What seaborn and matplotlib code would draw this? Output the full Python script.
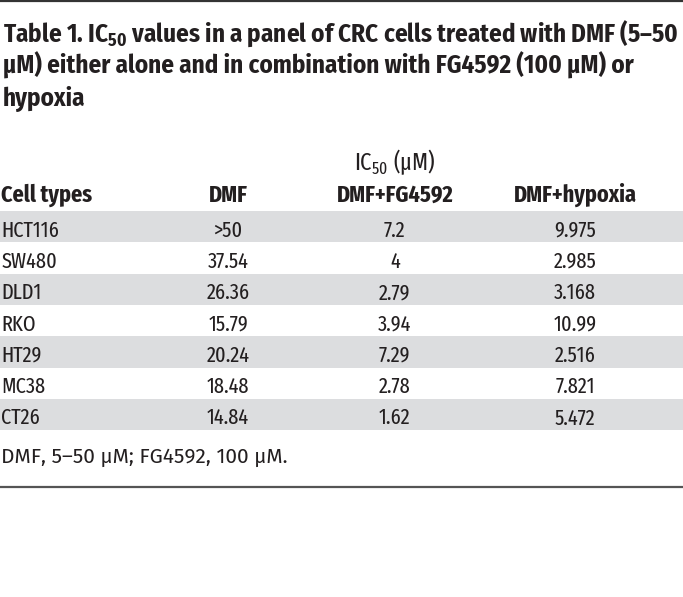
import numpy as np
import pandas as pd
import matplotlib.pyplot as plt
import seaborn as sns
from matplotlib.colors import ListedColormap
from matplotlib.lines import Line2D
from matplotlib import font_manager

sns.set_style("white")

# table content
cell_types = ["HCT116", "SW480", "DLD1", "RKO", "HT29", "MC38", "CT26"]
dmf = [">50", "37.54", "26.36", "15.79", "20.24", "18.48", "14.84"]
dmf_fg4592 = ["7.2", "4", "2.79", "3.94", "7.29", "2.78", "1.62"]
dmf_hypoxia = ["9.975", "2.985", "3.168", "10.99", "2.516", "7.821", "5.472"]
col_names = ["Cell types", "DMF", "DMF+FG4592", "DMF+hypoxia"]

title_lines = [
    r"Table 1. IC$_{\mathbf{50}}$ values in a panel of CRC cells treated with DMF (5–50",
    "μM) either alone and in combination with FG4592 (100 μM) or",
    "hypoxia",
]
group_label = r"IC$_{\mathrm{50}}$ (μM)"
footnote = "DMF, 5–50 μM; FG4592, 100 μM."

df = pd.DataFrame({col_names[0]: cell_types, col_names[1]: dmf,
                   col_names[2]: dmf_fg4592, col_names[3]: dmf_hypoxia})

installed = {f.name for f in font_manager.fontManager.ttflist}
def pick(options):
    for o in options:
        if o in installed:
            return o
    return "DejaVu Sans"

narrow = pick(["Fira Sans Condensed", "Barlow Semi Condensed", "Roboto Condensed",
               "Archivo Narrow", "Asap Condensed", "Liberation Sans Narrow"])
xnarrow = pick(["Fira Sans Extra Condensed", "Barlow Condensed", narrow])
plain = pick(["Fira Sans", "Open Sans", "Noto Sans"])
plt.rcParams["font.family"] = [narrow, "DejaVu Sans"]
plt.rcParams["mathtext.fontset"] = "custom"
plt.rcParams["mathtext.rm"] = xnarrow
plt.rcParams["mathtext.bf"] = narrow + ":bold"

W, H = 683, 597
fig = plt.figure(figsize=(W / 100, H / 100), dpi=100)
renderer = fig.canvas.get_renderer()
ink = "#231f20"

def fy(py):
    return 1 - py / H

def fit(texts, ref, target, extra=1.0):
    # scale a group of texts so that `ref` spans `target` pixels
    w = ref.get_window_extent(renderer).width
    k = target / w * extra
    for t in texts:
        t.set_fontsize(t.get_fontsize() * k)

# title
title_txt = []
for i, line in enumerate(title_lines):
    title_txt.append(fig.text(3 / W, fy(42 + 32 * i), line, fontsize=15.5, fontweight="bold",
                              color=ink, va="baseline", ha="left"))
fit(title_txt, title_txt[0], 676)

# table body as striped heatmap
row_h = 31.3
top = 211
ax = fig.add_axes([0, fy(top + row_h * len(df)), 1, row_h * len(df) / H])
band = pd.DataFrame({"band": [1 - i % 2 for i in range(len(df))]}, index=df[col_names[0]])
sns.heatmap(band, cmap=ListedColormap(["white", "#dcdddf"]), vmin=0, vmax=1,
            cbar=False, ax=ax, linewidths=0)
ax.set_xticks([])
ax.set_yticks([])
ax.set_xlabel("")
ax.set_ylabel("")

col_x = [0.002, 0.334, 0.578, 0.842]
col_ha = ["left", "center", "center", "center"]
body_txt = []
for r in range(len(df)):
    for c, name in enumerate(col_names):
        body_txt.append(ax.text(col_x[c], r + 0.82, df[name].iloc[r], ha=col_ha[c],
                                va="baseline", fontsize=13.2, color=ink,
                                family=[xnarrow, "DejaVu Sans"]))
fit(body_txt, body_txt[0], 53, 1.1)

# headers
hdr_y = -(top - 201.7) / row_h
hdr_txt = []
for c, name in enumerate(col_names):
    hdr_txt.append(ax.text(col_x[c], hdr_y, name, ha=col_ha[c], va="baseline", fontsize=15.5,
                           fontweight="bold", color=ink, clip_on=False,
                           family=[xnarrow, "DejaVu Sans"]))
fit(hdr_txt, hdr_txt[3], 115, 1.07)
grp = ax.text(col_x[2], -(top - 170) / row_h, group_label, ha="center", va="baseline",
              fontsize=15.5, color=ink, clip_on=False, family=[xnarrow, "DejaVu Sans"])
fit([grp], grp, 78, 1.05)

# footnote
fn = fig.text(1 / W, fy(463), footnote, fontsize=13, family=[plain, "DejaVu Sans"],
              color=ink, va="baseline", ha="left")
fit([fn], fn, 287)

# rules
fig.add_artist(Line2D([0, 1], [fy(1), fy(1)], color="#333333", linewidth=1.6))
fig.add_artist(Line2D([0, 1], [fy(487), fy(487)], color="#555555", linewidth=1.6))

fig.savefig("out.png", dpi=100)
